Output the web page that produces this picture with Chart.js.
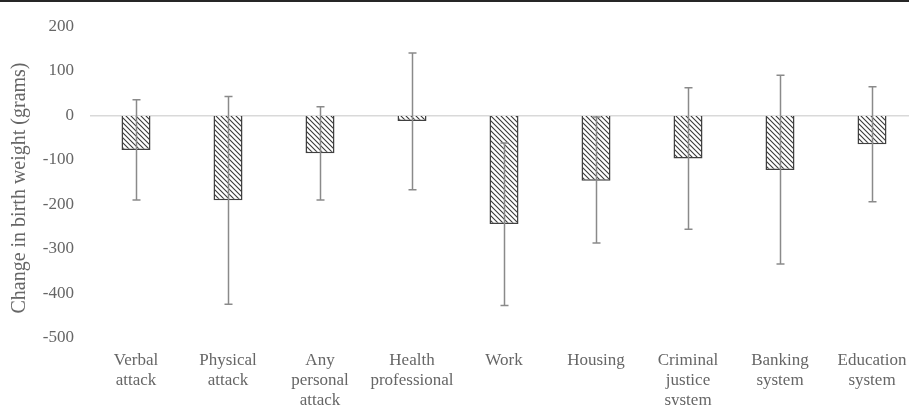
<!DOCTYPE html>
<html>
<head>
<meta charset="utf-8">
<script src="https://cdn.jsdelivr.net/npm/chart.js@4.4.1/dist/chart.umd.min.js"></script>
<style>
  html, body { margin: 0; padding: 0; background: #fff; overflow: hidden; }
  #wrap { position: relative; width: 909px; height: 405px; overflow: hidden; }
  #topRule { position: absolute; left: 0; top: 0; width: 100%; height: 2px; background: #262626; z-index: 2; }
  canvas { position: absolute; left: 0; top: 0; }
</style>
</head>
<body>
<div id="wrap">
  <div id="topRule"></div>
  <canvas id="chart" width="930" height="405"></canvas>
</div>
<script>
// Discrimination settings
const categories = [
  ["Verbal", "attack"],
  ["Physical", "attack"],
  ["Any", "personal", "attack"],
  ["Health", "professional"],
  ["Work"],
  ["Housing"],
  ["Criminal", "justice", "system"],
  ["Banking", "system"],
  ["Education", "system"]
];

// Estimated change in birth weight (grams) with confidence limits
const estimates = [-78, -191, -85, -13, -244, -147, -97, -123, -65];
const lowerCI   = [-190, -424, -190, -167, -427, -287, -256, -334, -194];
const upperCI   = [35, 42, 19, 140, -62, -4, 62, 90, 64];

const yTicks = [200, 100, 0, -100, -200, -300, -400, -500];
const yTitle = "Change in birth weight (grams)";

const serif = "'Liberation Serif', 'Times New Roman', serif";
const textGray = "#666666";

// Diagonal hatch fill for the bars
function makeHatch() {
  const s = 5;
  const c = document.createElement("canvas");
  c.width = s; c.height = s;
  const g = c.getContext("2d");
  g.fillStyle = "#ffffff";
  g.fillRect(0, 0, s, s);
  g.strokeStyle = "#3a3a3a";
  g.lineWidth = 1.1;
  g.beginPath();
  g.moveTo(-1, -1); g.lineTo(s + 1, s + 1);
  g.moveTo(-1, s - 1); g.lineTo(1, s + 1);
  g.moveTo(s - 1, -1); g.lineTo(s + 1, 1);
  g.stroke();
  return g.createPattern(c, "repeat");
}

// Whiskers for the confidence interval of each bar
const errorBars = {
  id: "errorBars",
  afterDatasetsDraw(chart) {
    const { ctx, scales: { y } } = chart;
    const meta = chart.getDatasetMeta(0);
    ctx.save();
    ctx.strokeStyle = "#8a8a8a";
    ctx.lineWidth = 1.5;
    meta.data.forEach((bar, i) => {
      const cx = Math.round(bar.x) + 0.5;
      const yl = y.getPixelForValue(lowerCI[i]);
      const yu = y.getPixelForValue(upperCI[i]);
      ctx.beginPath();
      ctx.moveTo(cx, yu); ctx.lineTo(cx, yl);
      ctx.moveTo(cx - 4, yu); ctx.lineTo(cx + 4, yu);
      ctx.moveTo(cx - 4, yl); ctx.lineTo(cx + 4, yl);
      ctx.stroke();
    });
    ctx.restore();
  }
};

// Rotated y-axis title
const yAxisTitle = {
  id: "yAxisTitle",
  afterDraw(chart) {
    const { ctx } = chart;
    ctx.save();
    ctx.translate(20, 188);
    ctx.rotate(-Math.PI / 2);
    ctx.font = "20px " + serif;
    ctx.fillStyle = textGray;
    ctx.textAlign = "center";
    ctx.textBaseline = "middle";
    ctx.fillText(yTitle, 0, 0);
    ctx.restore();
  }
};

new Chart(document.getElementById("chart"), {
  type: "bar",
  data: {
    labels: categories,
    datasets: [{
      data: estimates,
      backgroundColor: makeHatch(),
      borderColor: "#404040",
      borderWidth: 1.5,
      borderSkipped: "start",
      categoryPercentage: 1,
      barPercentage: 0.315
    }]
  },
  options: {
    responsive: false,
    animation: false,
    devicePixelRatio: 1,
    layout: { padding: { top: 23, right: 12, bottom: 0, left: 0 } },
    plugins: { legend: { display: false }, tooltip: { enabled: false } },
    scales: {
      x: {
        grid: { display: false, drawTicks: false },
        border: { display: false },
        ticks: {
          color: textGray,
          font: { family: serif, size: 17, lineHeight: 20 / 17 },
          padding: 13,
          maxRotation: 0,
          autoSkip: false
        },
        afterFit(scale) { scale.height = 67; }
      },
      y: {
        min: -500,
        max: 200,
        afterBuildTicks(scale) { scale.ticks = yTicks.map(v => ({ value: v })); },
        grid: {
          drawTicks: false,
          color: ctx => (ctx.tick && ctx.tick.value === 0 ? "#d9d9d9" : "rgba(0,0,0,0)"),
          lineWidth: 1.5
        },
        border: { display: false },
        ticks: {
          color: textGray,
          font: { family: serif, size: 17 },
          padding: 16
        },
        afterFit(scale) { scale.width = 90; }
      }
    }
  },
  plugins: [errorBars, yAxisTitle]
});
</script>
</body>
</html>
